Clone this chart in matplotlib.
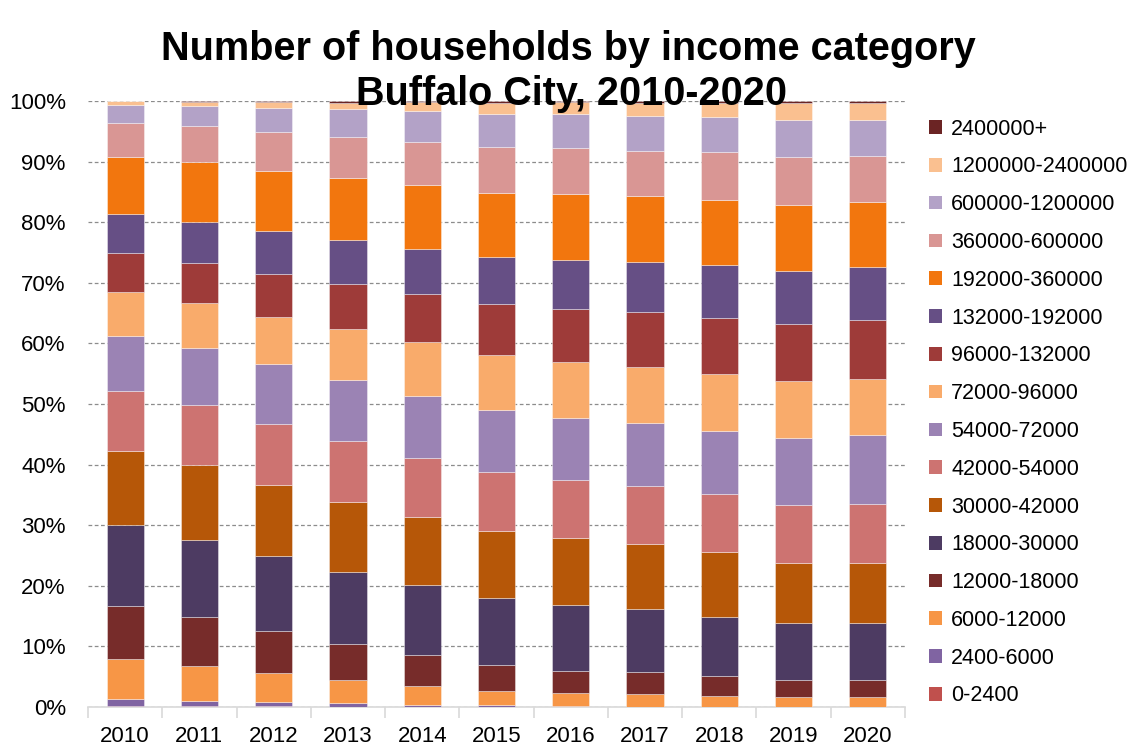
import matplotlib
matplotlib.use("Agg")
import matplotlib.pyplot as plt
import numpy as np
from matplotlib.patches import Patch

plt.rcParams['font.family'] = ['Liberation Sans', 'DejaVu Sans']

# 数据
years = ["2010", "2011", "2012", "2013", "2014", "2015", "2016", "2017", "2018", "2019", "2020"]

categories = ["0-2400", "2400-6000", "6000-12000", "12000-18000", "18000-30000",
              "30000-42000", "42000-54000", "54000-72000", "72000-96000",
              "96000-132000", "132000-192000", "192000-360000", "360000-600000",
              "600000-1200000", "1200000-2400000", "2400000+"]

# 每个收入类别在各年的占比 (%)
pct = [
    [0.2, 0.1, 0.1, 0.05, 0.05, 0.05, 0.03, 0.02, 0.02, 0.02, 0.02],        # 0-2400
    [1.2, 0.95, 0.8, 0.6, 0.35, 0.2, 0.17, 0.06, 0.03, 0.03, 0.03],         # 2400-6000
    [6.6, 5.75, 4.7, 3.85, 3.05, 2.45, 2.1, 2.02, 1.75, 1.65, 1.55],        # 6000-12000
    [8.7, 8.0, 6.9, 5.95, 5.05, 4.3, 3.7, 3.6, 3.25, 2.8, 2.9],             # 12000-18000
    [13.4, 12.8, 12.4, 11.85, 11.6, 11.0, 10.9, 10.4, 9.85, 9.3, 9.4],      # 18000-30000
    [12.15, 12.3, 11.75, 11.6, 11.3, 11.0, 11.0, 10.8, 10.6, 10.0, 9.9],    # 30000-42000
    [9.85, 10.0, 10.05, 10.0, 9.7, 9.7, 9.5, 9.6, 9.7, 9.6, 9.7],           # 42000-54000
    [9.1, 9.3, 9.9, 10.1, 10.3, 10.3, 10.3, 10.3, 10.4, 11.0, 11.4],        # 54000-72000
    [7.2, 7.4, 7.8, 8.4, 8.8, 9.1, 9.3, 9.3, 9.4, 9.4, 9.3],                # 72000-96000
    [6.5, 6.6, 7.1, 7.4, 7.9, 8.4, 8.6, 9.0, 9.2, 9.4, 9.7],                # 96000-132000
    [6.5, 6.8, 7.0, 7.3, 7.5, 7.8, 8.2, 8.3, 8.7, 8.7, 8.7],                # 132000-192000
    [9.4, 10.0, 10.0, 10.2, 10.5, 10.6, 10.8, 10.9, 10.8, 11.0, 10.8],      # 192000-360000
    [5.5, 5.9, 6.4, 6.7, 7.1, 7.5, 7.6, 7.5, 7.9, 7.9, 7.5],                # 360000-600000
    [3.0, 3.3, 4.0, 4.6, 5.1, 5.5, 5.6, 5.7, 5.7, 6.0, 6.0],                # 600000-1200000
    [0.65, 0.65, 0.9, 1.1, 1.5, 1.85, 2.0, 2.2, 2.3, 2.8, 2.7],             # 1200000-2400000
    [0.05, 0.15, 0.2, 0.3, 0.2, 0.25, 0.2, 0.3, 0.4, 0.4, 0.4],             # 2400000+
]

colors = ["#C0504D", "#8064A2", "#F79646", "#772C2A", "#4D3B62", "#B65708",
          "#CD7371", "#9B83B4", "#F9AB6B", "#9E3B39", "#664F85", "#F2760E",
          "#D99694", "#B3A2C7", "#FAC090", "#6B2424"]

fig = plt.figure(figsize=(11.29, 7.5), dpi=100)
ax = fig.add_axes([88/1129, 1-707/750, (905-88)/1129, (707-101)/750])

vals = np.array(pct, dtype=float)
vals = vals / vals.sum(axis=0)  # 归一化为100%
x = np.arange(len(years))
bottom = np.zeros(len(years))
for i in range(len(categories)):
    ax.bar(x, vals[i], 0.5, bottom=bottom, color=colors[i],
           edgecolor=(1, 1, 1, 0.45), linewidth=0.6, zorder=3)
    bottom += vals[i]

ax.set_xlim(-0.5, len(years) - 0.5)
ax.set_ylim(0, 1)
ax.set_yticks(np.arange(0, 1.01, 0.1))
ax.set_yticklabels([f"{int(round(v*100))}%" for v in np.arange(0, 1.01, 0.1)], fontsize=16)
ax.yaxis.grid(True, linestyle=(0, (3, 2)), color="#8c8c8c", linewidth=0.9, zorder=0)
ax.tick_params(axis="y", length=0, pad=16)

ax.set_xticks(x)
ax.set_xticklabels(years, fontsize=16)
ax.set_xticks(np.arange(-0.5, len(years)), minor=True)
ax.tick_params(axis="x", which="major", length=0, pad=14)
ax.tick_params(axis="x", which="minor", length=8, color="#d9d9d9", width=1.2)

for s in ["top", "right", "left"]:
    ax.spines[s].set_visible(False)
ax.spines["bottom"].set_color("#d9d9d9")
ax.spines["bottom"].set_linewidth(1.2)

# 标题 (两行)
fig.text(568/1129, 1-60/750, "Number of households by income category",
         ha="center", va="baseline", fontsize=28.5, fontweight="bold")
fig.text(571/1129, 1-105/750, "Buffalo City, 2010-2020",
         ha="center", va="baseline", fontsize=28.5, fontweight="bold", zorder=5)

handles = [Patch(facecolor=colors[i], edgecolor="none") for i in range(len(categories))][::-1]
labels = categories[::-1]
fig.legend(handles, labels, loc="upper left", bbox_to_anchor=(920/1129, 1-110/750),
           frameon=False, fontsize=15.5, labelspacing=0.78, handlelength=0.6,
           handleheight=0.6, handletextpad=0.45, borderaxespad=0)

fig.savefig("out.png", dpi=100)
